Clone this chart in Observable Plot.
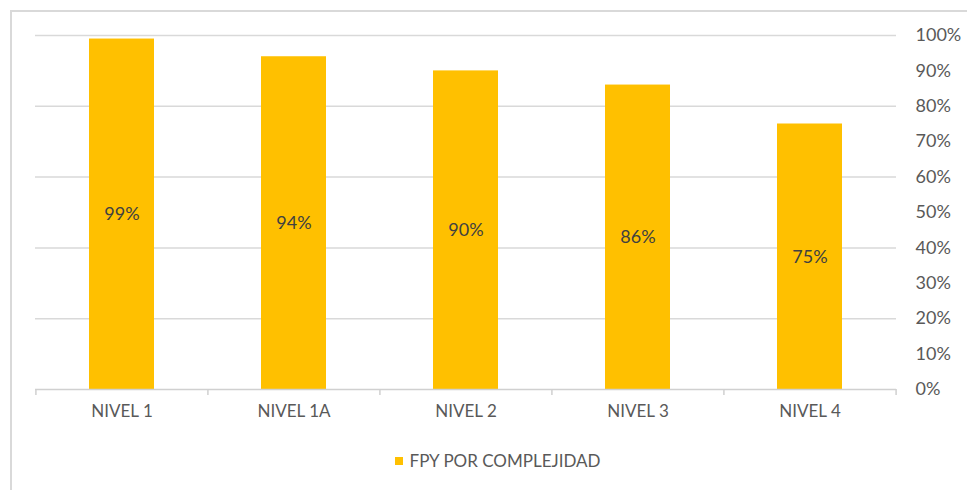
<!DOCTYPE html>
<html>
<head>
<meta charset="utf-8">
<script src="https://cdn.jsdelivr.net/npm/d3@7"></script>
<script src="https://cdn.jsdelivr.net/npm/@observablehq/plot@0.6"></script>
<style>
  html, body { margin: 0; padding: 0; background: #fff; }
  #wrap { position: relative; width: 967px; height: 490px; overflow: hidden; font-family: Lato, "Open Sans", sans-serif; }
  #frame { position: absolute; left: 10px; top: 10px; width: 980px; height: 500px; border: 2px solid #d9d9d9; box-sizing: border-box; }
  #chart { position: absolute; left: 0; top: 0; }
  #legend { position: absolute; left: 14px; top: 440px; width: 967px; height: 50px; display: flex; justify-content: center; align-items: flex-start; padding-top: 10px; box-sizing: border-box; color: #595959; font-size: 17px; }
  #legend .sw { display: inline-block; width: 8px; height: 8px; background: #FFC000; margin-right: 7px; margin-top: 7px; }
</style>
</head>
<body>
<div id="wrap">
  <div id="frame"></div>
  <div id="chart"></div>
  <div id="legend"><span class="sw"></span><span id="legend-label"></span></div>
</div>
<script>
const categories = ["NIVEL 1", "NIVEL 1A", "NIVEL 2", "NIVEL 3", "NIVEL 4"];
const fpyValues = [0.99, 0.94, 0.90, 0.86, 0.75];
const seriesName = "FPY POR COMPLEJIDAD";
const yTicks = [0, 0.1, 0.2, 0.3, 0.4, 0.5, 0.6, 0.7, 0.8, 0.9, 1.0];
const gridTicks = [0.2, 0.4, 0.6, 0.8, 1.0];

const data = categories.map((c, i) => ({ category: c, value: fpyValues[i] }));

const W = 967, H = 440, mL = 35, mR = 71, mT = 35, mB = 51;
const band = (W - mL - mR) / categories.length;
const barColor = "#FFC000";
const textColor = "#595959";

const chart = Plot.plot({
  width: W,
  height: H,
  marginLeft: mL,
  marginRight: mR,
  marginTop: mT,
  marginBottom: mB,
  style: { fontFamily: "Lato, 'Open Sans', sans-serif", background: "transparent", overflow: "visible" },
  x: { domain: categories, paddingInner: 0.62, paddingOuter: 0.31, label: null },
  y: { domain: [0, 1], label: null },
  marks: [
    Plot.ruleY(gridTicks, { stroke: "#d9d9d9", strokeWidth: 1.5 }),
    Plot.barY(data, { x: "category", y: "value", fill: barColor }),
    Plot.ruleY([0], { stroke: "#d0d0d0", strokeWidth: 1.5 }),
    // category separator ticks below the baseline
    Plot.ruleX(data, { x: "category", y1: 0, y2: 0, insetBottom: -6, dx: -band / 2, stroke: "#d0d0d0", strokeWidth: 1.5 }),
    Plot.ruleX(data.slice(-1), { x: "category", y1: 0, y2: 0, insetBottom: -6, dx: band / 2, stroke: "#d0d0d0", strokeWidth: 1.5 }),
    Plot.text(data, { x: "category", y: d => d.value / 2, text: d => d3.format(".0%")(d.value), fill: "#404040", fontSize: 18 }),
    Plot.axisX({ tickSize: 0, tickPadding: 15, fontSize: 17, color: textColor, label: null }),
    Plot.axisY({ anchor: "right", ticks: yTicks, tickFormat: d3.format(".0%"), tickSize: 0, tickPadding: 19, fontSize: 18, color: textColor, label: null })
  ]
});

document.getElementById("chart").appendChild(chart);
document.getElementById("legend-label").textContent = seriesName;
</script>
</body>
</html>
